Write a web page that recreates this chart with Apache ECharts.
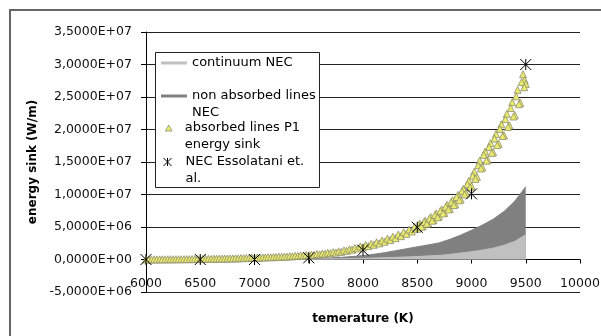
<!DOCTYPE html>
<html>
<head>
<meta charset="utf-8">
<script src="https://cdn.jsdelivr.net/npm/echarts@6/dist/echarts.min.js"></script>
<style>
  html, body { margin: 0; padding: 0; background: #fff; }
  #chart { width: 601px; height: 336px; }
</style>
</head>
<body>
<div id="chart"></div>
<script>
// all energy values in units of 1e6 W/m
const contTemp = [6000, 7000, 7500, 7750, 8000, 8250, 8500, 8750, 9000, 9100, 9200, 9300, 9400, 9500];
const contVal  = [0, 0.01, 0.05, 0.1, 0.18, 0.3, 0.45, 0.7, 1.2, 1.45, 1.75, 2.2, 2.8, 3.8];

const nonAbsTemp = [6000, 6500, 7000, 7250, 7500, 7600, 7700, 7800, 7900, 8000, 8100, 8200, 8300, 8400,
                    8500, 8600, 8700, 8800, 8900, 9000, 9100, 9200, 9300, 9400, 9500];
const nonAbsVal  = [0, 0, 0.02, 0.05, 0.12, 0.17, 0.24, 0.33, 0.45, 0.6, 0.8, 1.05, 1.35, 1.65,
                    1.95, 2.25, 2.55, 3.1, 3.75, 4.5, 5.3, 6.2, 7.4, 9.0, 11.2];

const p1Temp = [6000, 6025, 6050, 6075, 6100, 6125, 6150, 6175, 6200, 6225, 6250, 6275, 6300, 6325, 6350, 6375,
  6400, 6425, 6450, 6475, 6500, 6525, 6550, 6575, 6600, 6625, 6650, 6675, 6700, 6725, 6750, 6775,
  6800, 6825, 6850, 6875, 6900, 6925, 6950, 6975, 7000, 7025, 7050, 7075, 7100, 7125, 7150, 7175,
  7200, 7225, 7250, 7275, 7300, 7325, 7350, 7375, 7400, 7425, 7450, 7475, 7500, 7525, 7550, 7575,
  7600, 7625, 7650, 7675, 7700, 7725, 7750, 7775, 7800, 7825, 7850, 7875, 7900, 7925, 7950, 7975,
  8000, 8025, 8050, 8075, 8100, 8125, 8150, 8175, 8200, 8225, 8250, 8275, 8300, 8325, 8350, 8375,
  8400, 8425, 8450, 8475, 8500, 8525, 8550, 8575, 8600, 8625, 8650, 8675, 8700, 8725, 8750, 8775,
  8800, 8825, 8850, 8875, 8900, 8925, 8950, 8975, 9000, 9025, 9050, 9075, 9100, 9125, 9150, 9175,
  9200, 9225, 9250, 9275, 9300, 9325, 9350, 9375, 9400, 9425, 9450, 9475, 9490, 9500,
  8512, 8537, 8562, 8587, 8612, 8637, 8662, 8687, 8712, 8737, 8762, 8787, 8812, 8837, 8862, 8887,
  8912, 8937, 8962, 8987, 9012, 9037, 9062, 9087, 9112, 9137, 9162, 9187, 9212, 9237, 9262, 9287,
  9312, 9337, 9362, 9387, 9412, 9437, 9462, 9487];
const p1Val = [0.00, 0.01, 0.00, 0.02, 0.01, 0.02, 0.03, 0.02, 0.03, 0.04, 0.03, 0.04, 0.05, 0.04, 0.05, 0.06,
  0.05, 0.07, 0.06, 0.08, 0.07, 0.09, 0.08, 0.10, 0.09, 0.12, 0.11, 0.14, 0.13, 0.15, 0.14, 0.17,
  0.16, 0.19, 0.18, 0.22, 0.21, 0.25, 0.23, 0.28, 0.26, 0.30, 0.28, 0.33, 0.31, 0.36, 0.34, 0.39,
  0.37, 0.43, 0.40, 0.46, 0.44, 0.51, 0.49, 0.57, 0.54, 0.63, 0.59, 0.69, 0.65, 0.75, 0.71, 0.84,
  0.79, 0.92, 0.87, 1.03, 0.96, 1.13, 1.06, 1.25, 1.18, 1.40, 1.33, 1.58, 1.50, 1.77, 1.68, 1.99,
  1.89, 2.22, 2.07, 2.42, 2.27, 2.66, 2.48, 2.92, 2.73, 3.20, 2.99, 3.51, 3.28, 3.84, 3.59, 4.21,
  3.94, 4.61, 4.31, 5.06, 4.72, 5.52, 5.12, 5.99, 5.58, 6.53, 6.06, 7.09, 6.60, 7.72, 7.17, 8.40,
  7.80, 9.13, 8.48, 9.93, 9.23, 10.9, 10.2, 12.1, 11.3, 13.5, 12.7, 15.2, 14.2, 16.6, 15.3, 17.9,
  16.5, 19.3, 17.8, 20.8, 19.1, 22.4, 20.6, 24.2, 22.2, 26.1, 24.1, 28.5, 27.6, 27.0,
  5.30, 5.05, 5.80, 5.50, 6.30, 5.98, 6.85, 6.50, 7.45, 7.08, 8.10, 7.70, 8.82, 8.37, 9.60, 9.11,
  10.5, 10.0, 11.6, 11.1, 12.9, 12.4, 14.5, 14.0, 16.1, 15.2, 17.3, 16.4, 18.6, 17.6, 20.1, 19.0,
  21.6, 20.4, 23.3, 22.0, 25.1, 23.9, 27.3, 26.5];

const esTemp = [6000, 6500, 7000, 7500, 8000, 8500, 9000, 9500];
const esVal  = [0, 0, 0, 0.26, 1.43, 4.95, 10.1, 30.0];

const FONT = 'DejaVu Sans';
const pairs = (xs, ys) => xs.map((x, i) => [x, ys[i] * 1e6]);

// Excel style "3,5000E+07"
const sci = v => {
  if (v === 0) return '0,0000E+00';
  const e = Math.floor(Math.log10(Math.abs(v)) + 1e-9);
  const m = v / Math.pow(10, e);
  return m.toFixed(4).replace('.', ',') + 'E' + (e < 0 ? '-' : '+') + String(Math.abs(e)).padStart(2, '0');
};

const txt = { fontFamily: FONT, fontSize: 13, color: '#000', lineHeight: 17 };

const chart = echarts.init(document.getElementById('chart'), null, { renderer: 'canvas' });
chart.setOption({
  animation: false,
  backgroundColor: '#fff',
  grid: { left: 146, right: 21, top: 32, bottom: 44, containLabel: false, outerBoundsMode: 'none' },
  xAxis: {
    type: 'value', min: 6000, max: 10000, interval: 500,
    name: 'temerature (K)', nameLocation: 'middle', nameGap: 21,
    nameTextStyle: { fontFamily: FONT, fontSize: 12, fontWeight: 'bold', color: '#000' },
    axisLine: { onZero: true, lineStyle: { color: '#000', width: 1 } },
    axisTick: { show: true, length: 4, lineStyle: { color: '#000' } },
    // labels sit between the zero line and the bottom grid line
    axisLabel: { fontFamily: FONT, fontSize: 12.5, color: '#111', margin: -14.5, formatter: v => String(v) },
    splitLine: { show: false }
  },
  yAxis: {
    type: 'value', min: -5e6, max: 3.5e7, interval: 5e6,
    name: 'energy sink (W/m)', nameLocation: 'middle', nameGap: 106, nameRotate: 90,
    nameTextStyle: { fontFamily: FONT, fontSize: 12, fontWeight: 'bold', color: '#000' },
    axisLine: { show: true, onZero: false, lineStyle: { color: '#000', width: 1 } },
    axisTick: { show: true, length: 5, lineStyle: { color: '#000' } },
    axisLabel: { fontFamily: FONT, fontSize: 12.5, color: '#111', margin: 14, formatter: sci },
    splitLine: { show: true, lineStyle: { color: '#222', width: 1 } }
  },
  // one legend per entry so that each icon sits on the first text line
  legend: [
    { data: ['continuum NEC'], left: 161, top: 54.5, padding: 0, itemWidth: 26, itemHeight: 3,
      icon: 'rect', textStyle: txt },
    { data: ['non absorbed lines NEC'], left: 161, top: 70.5, padding: 0, itemWidth: 26, itemHeight: 3,
      icon: 'rect', formatter: '\nnon absorbed lines\nNEC', textStyle: txt },
    { data: ['absorbed lines P1 energy sink'], left: 165, top: 102.5, padding: 0, itemWidth: 22, itemHeight: 6,
      formatter: '\nabsorbed lines P1\nenergy sink', itemStyle: { borderWidth: 0.8 }, textStyle: txt },
    { data: ['NEC Essolatani et. al.'], left: 161, top: 136.5, padding: 0, itemWidth: 26, itemHeight: 8,
      formatter: '\nNEC Essolatani et.\nal.', itemStyle: { borderWidth: 1 }, textStyle: txt }
  ],
  graphic: [
    { type: 'rect', z: 3, shape: { x: 155.5, y: 52.5, width: 164, height: 135 },
      style: { fill: '#fff', stroke: '#222', lineWidth: 1 } },
    { type: 'rect', z: 10, shape: { x: 10, y: 10, width: 640, height: 380 },
      style: { fill: 'none', stroke: '#666', lineWidth: 2 } }
  ],
  series: [
    {
      name: 'non absorbed lines NEC', type: 'line', z: 2,
      data: pairs(nonAbsTemp, nonAbsVal),
      showSymbol: false, symbol: 'none',
      color: '#808080',
      lineStyle: { color: '#808080', width: 1 },
      areaStyle: { color: '#808080', opacity: 1 }
    },
    {
      name: 'continuum NEC', type: 'line', z: 3,
      data: pairs(contTemp, contVal),
      showSymbol: false, symbol: 'none',
      color: '#c0c0c0',
      lineStyle: { color: '#c0c0c0', width: 1 },
      areaStyle: { color: '#c0c0c0', opacity: 1 }
    },
    {
      name: 'absorbed lines P1 energy sink', type: 'scatter', z: 4,
      data: pairs(p1Temp, p1Val),
      symbol: 'path://M5,0L10,9L0,9Z', symbolSize: 7,
      itemStyle: { color: '#eaea6c', borderColor: '#8e8e70', borderWidth: 0.8, opacity: 1 }
    },
    {
      name: 'NEC Essolatani et. al.', type: 'scatter', z: 5,
      data: pairs(esTemp, esVal),
      symbol: 'path://M5,0L5,10M0,0L10,10M10,0L0,10', symbolSize: 11,
      itemStyle: { color: 'none', borderColor: '#000', borderWidth: 1, opacity: 1 }
    }
  ]
});
</script>
</body>
</html>
